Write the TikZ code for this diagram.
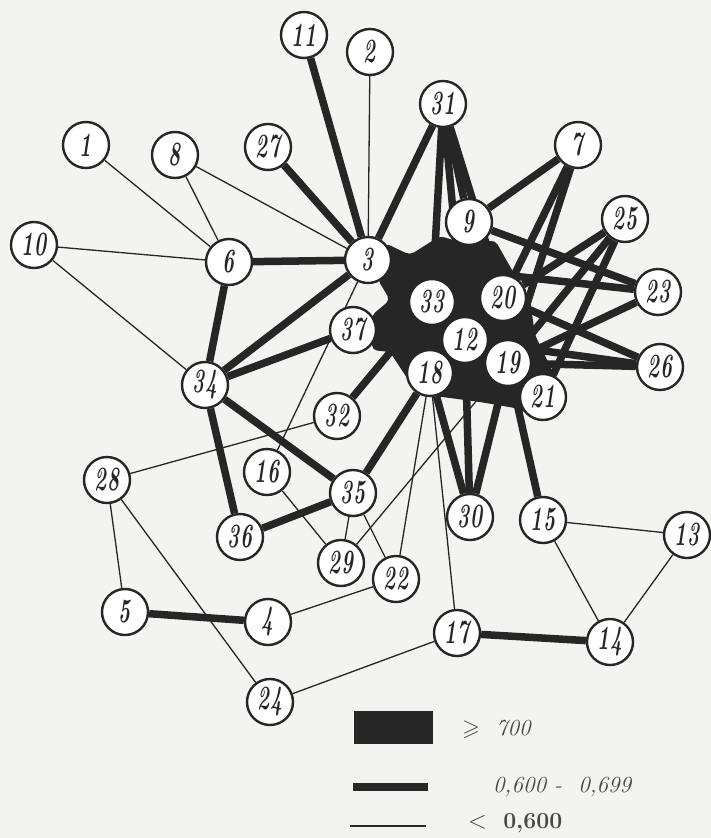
\documentclass[tikz,border=0pt]{standalone}
\usepackage{graphicx}
\usepackage{amssymb}
\definecolor{ink}{HTML}{262626}
\definecolor{paper}{HTML}{F3F3F1}
\pgfdeclarelayer{bg}
\pgfdeclarelayer{paperlayer}
\pgfsetlayers{paperlayer,bg,main}
\newcommand{\nlab}[1]{\scalebox{0.6}[1]{#1}}
\tikzset{
  nd/.style={circle, draw=ink, fill=white, line width=2.4pt, minimum size=46pt, inner sep=0pt,
    font=\fontsize{34}{34}\selectfont\bfseries\itshape, text=ink},
  lo/.style={draw=ink, line width=1.3pt},
  mid/.style={draw=ink, line width=7.5pt},
  hi/.style={draw=ink, line width=14pt},
  lgtext/.style={anchor=west, text=ink!85, font=\fontsize{23}{23}\selectfont\itshape, inner sep=0pt}
}
\begin{document}
\begin{tikzpicture}[x=1pt,y=-1pt]
\begin{pgfonlayer}{paperlayer}
\fill[paper] (0,0) rectangle (711,838);
\end{pgfonlayer}
\useasboundingbox (0,0) rectangle (711,838);
% nodes
\node[nd] (n11) at (304,35) {\nlab{11}};
\node[nd] (n2)  at (370,52) {\nlab{2}};
\node[nd] (n31) at (443,104) {\nlab{31}};
\node[nd] (n1)  at (86,145) {\nlab{1}};
\node[nd] (n8)  at (175,155) {\nlab{8}};
\node[nd] (n27) at (268,147) {\nlab{27}};
\node[nd] (n7)  at (578,145) {\nlab{7}};
\node[nd] (n9)  at (469,222) {\nlab{9}};
\node[nd] (n25) at (625,219) {\nlab{25}};
\node[nd] (n10) at (34,245) {\nlab{10}};
\node[nd] (n6)  at (229,262) {\nlab{6}};
\node[nd] (n3)  at (368,260) {\nlab{3}};
\node[nd] (n33) at (432,302) {\nlab{33}};
\node[nd] (n20) at (503,298) {\nlab{20}};
\node[nd] (n23) at (658,292) {\nlab{23}};
\node[nd] (n37) at (353,330) {\nlab{37}};
\node[nd] (n12) at (465,340) {\nlab{12}};
\node[nd] (n26) at (660,367) {\nlab{26}};
\node[nd] (n19) at (508,363) {\nlab{19}};
\node[nd] (n18) at (430,373) {\nlab{18}};
\node[nd] (n21) at (543,397) {\nlab{21}};
\node[nd] (n34) at (205,385) {\nlab{34}};
\node[nd] (n32) at (337,416) {\nlab{32}};
\node[nd] (n28) at (107,480) {\nlab{28}};
\node[nd] (n16) at (267,472) {\nlab{16}};
\node[nd] (n35) at (353,493) {\nlab{35}};
\node[nd] (n36) at (240,537) {\nlab{36}};
\node[nd] (n30) at (470,517) {\nlab{30}};
\node[nd] (n15) at (543,520) {\nlab{15}};
\node[nd] (n13) at (687,535) {\nlab{13}};
\node[nd] (n29) at (341,563) {\nlab{29}};
\node[nd] (n22) at (396,579) {\nlab{22}};
\node[nd] (n5)  at (125,612) {\nlab{5}};
\node[nd] (n4)  at (268,622) {\nlab{4}};
\node[nd] (n17) at (457,633) {\nlab{17}};
\node[nd] (n14) at (610,642) {\nlab{14}};
\node[nd] (n24) at (270,702) {\nlab{24}};
\begin{pgfonlayer}{bg}
% heavy blob
\fill[ink, rounded corners=5pt] (385,243) -- (410,255) -- (440,236) -- (470,245) -- (495,240)
  -- (512,270) -- (530,300) -- (535,335) -- (552,370) -- (566,395) -- (550,422) -- (515,408)
  -- (480,402) -- (450,398) -- (418,394) -- (403,372) -- (390,352) -- (372,350) -- (372,315)
  -- (390,300) -- (378,280) -- cycle;
\draw[hi] (n3) -- (n33);
\draw[hi] (n37) -- (n33);
\draw[hi] (n33) -- (n9);
\draw[hi] (n33) -- (n20);
\draw[hi] (n33) -- (n18);
\draw[hi] (n12) -- (n19);
\draw[hi] (n19) -- (n21);
\draw[hi] (n18) -- (n19);
\draw[hi] (n9) -- (n20);
\draw[hi] (n20) -- (n19);
% medium
\draw[mid] (n11) -- (n3);
\draw[mid] (n27) -- (n3);
\draw[mid] (n6) -- (n3);
\draw[mid] (n6) -- (n34);
\draw[mid] (n31) -- (n3);
\draw[mid] (n31) -- (n33);
\draw[mid] (n31) -- (n12);
\draw[mid] (n31) -- (n9);
\draw[mid] (n31) -- (n20);
\draw[mid] (n7) -- (n9);
\draw[mid] (n7) -- (n20);
\draw[mid] (n7) -- (n19);
\draw[mid] (n3) -- (n23);
\draw[mid] (n9) -- (n23);
\draw[mid] (n19) -- (n23);
\draw[mid] (n20) -- (n26);
\draw[mid] (n12) -- (n26);
\draw[mid] (n19) -- (n26);
\draw[mid] (n25) -- (n20);
\draw[mid] (n25) -- (n19);
\draw[mid] (n25) -- (n21);
\draw[mid] (n3) -- (n34);
\draw[mid] (n37) -- (n34);
\draw[mid] (n32) -- (n33);
\draw[mid] (n18) -- (n35);
\draw[mid] (n34) -- (n35);
\draw[mid] (n34) -- (n36);
\draw[mid] (n36) -- (n35);
\draw[mid] (n18) -- (n30);
\draw[mid] (n12) -- (n30);
\draw[mid] (n19) -- (n30);
\draw[mid] (n19) -- (n15);
\draw[mid] (n5) -- (n4);
\draw[mid] (n17) -- (n14);
% thin
\draw[lo] (n1) -- (n6);
\draw[lo] (n8) -- (n6);
\draw[lo] (n8) -- (n3);
\draw[lo] (n10) -- (n6);
\draw[lo] (n10) -- (n34);
\draw[lo] (n2) -- (n3);
\draw[lo] (n3) -- (n16);
\draw[lo] (n28) -- (n32);
\draw[lo] (n28) -- (n5);
\draw[lo] (n28) -- (n24);
\draw[lo] (n4) -- (n22);
\draw[lo] (n24) -- (n17);
\draw[lo] (n16) -- (n29);
\draw[lo] (n35) -- (n29);
\draw[lo] (n35) -- (n22);
\draw[lo] (n18) -- (n22);
\draw[lo] (n18) -- (n17);
\draw[lo] (n29) -- (n19);
\draw[lo] (n15) -- (n14);
\draw[lo] (n15) -- (n13);
\draw[lo] (n13) -- (n14);
\end{pgfonlayer}
% legend
\node[fill=ink, minimum width=79pt, minimum height=33pt, inner sep=0pt] (lg1) at (393,727) {};
\node[lgtext] (lt1) at (462,729) {$\geqslant$\ \ 700};
\coordinate (lm1) at (353,787);
\coordinate (lm2) at (428,787);
\draw[ink, line width=8pt] (lm1) -- (lm2);
\node[lgtext] (lt2) at (493,787) {0,600 -\ \ 0,699};
\coordinate (ll1) at (350,826);
\coordinate (ll2) at (426,826);
\draw[lo] (ll1) -- (ll2);
\node[lgtext] (lt3) at (468,823) {$<$\ \ {\upshape\bfseries 0,600}};
\end{tikzpicture}
\end{document}
